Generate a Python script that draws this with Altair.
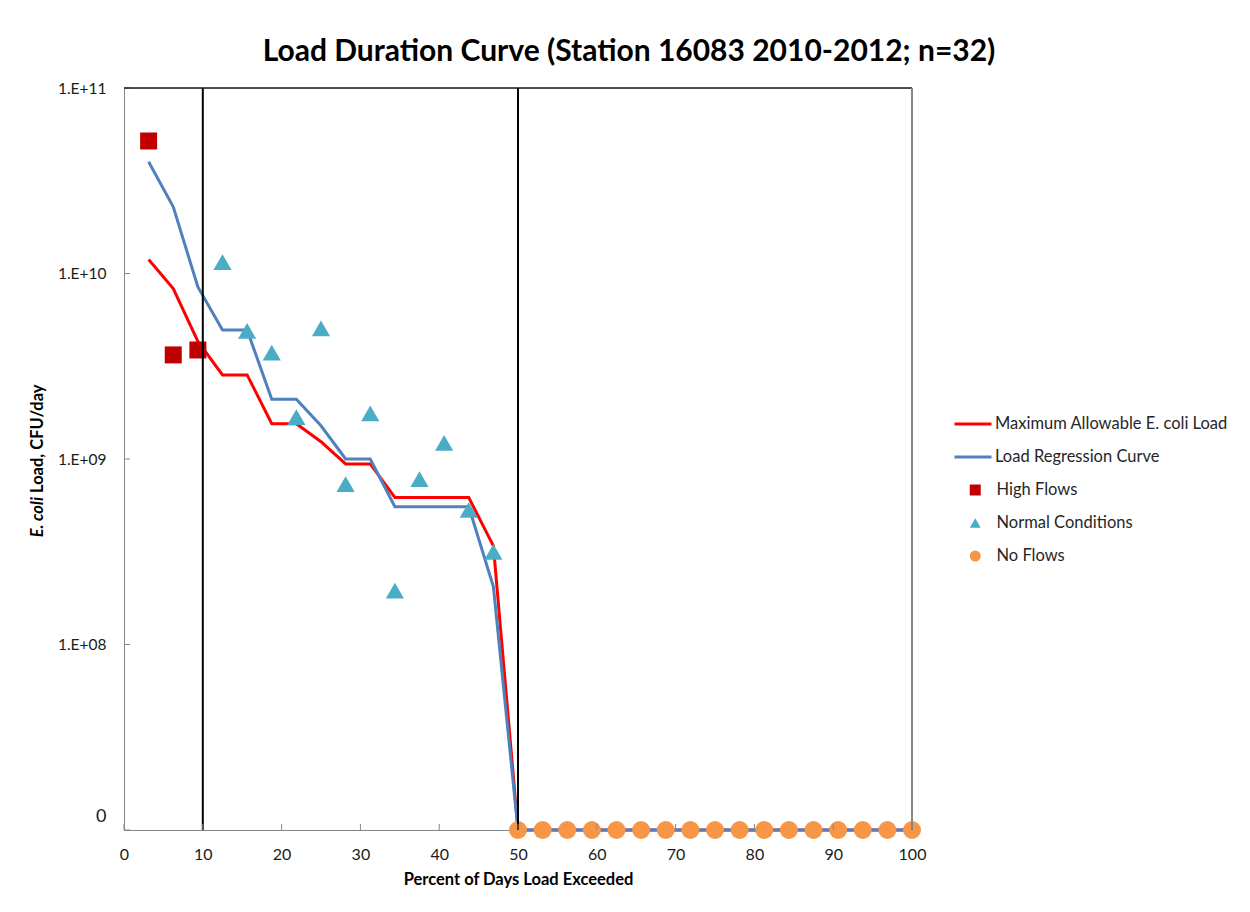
import altair as alt
import pandas as pd

# ---------------- data ----------------
pct_exceeded = [3.125, 6.25, 9.375, 12.5, 15.625, 18.75, 21.875, 25.0, 28.125, 31.25,
                34.375, 37.5, 40.625, 43.75, 46.875, 50.0, 53.125, 56.25, 59.375, 62.5,
                65.625, 68.75, 71.875, 75.0, 78.125, 81.25, 84.375, 87.5, 90.625, 93.75,
                96.875, 100.0]
max_allowable = [1.19e10, 8.3e9, 4.3e9, 2.84e9, 2.84e9, 1.55e9, 1.55e9, 1.24e9, 9.4e8, 9.4e8,
                 6.2e8, 6.2e8, 6.2e8, 6.2e8, 3.4e8, 0, 0, 0, 0, 0,
                 0, 0, 0, 0, 0, 0, 0, 0, 0, 0,
                 0, 0]
regression = [4.0e10, 2.29e10, 8.46e9, 4.96e9, 4.96e9, 2.1e9, 2.1e9, 1.51e9, 1.0e9, 1.0e9,
              5.53e8, 5.53e8, 5.53e8, 5.53e8, 2.05e8, 0, 0, 0, 0, 0,
              0, 0, 0, 0, 0, 0, 0, 0, 0, 0,
              0, 0]

high_x = [3.125, 6.25, 9.375]
high_y = [5.18e10, 3.64e9, 3.87e9]

normal_x = [12.5, 15.625, 18.75, 21.875, 25.0, 28.125, 31.25, 34.375, 37.5, 40.625, 43.75, 46.875]
normal_y = [1.15e10, 4.9e9, 3.74e9, 1.68e9, 5.06e9, 7.33e8, 1.76e9, 1.95e8, 7.8e8, 1.22e9, 5.31e8, 3.16e8]

noflow_x = [50.0, 53.125, 56.25, 59.375, 62.5, 65.625, 68.75, 71.875, 75.0, 78.125,
            81.25, 84.375, 87.5, 90.625, 93.75, 96.875, 100.0]
noflow_y = [0, 0, 0, 0, 0, 0, 0, 0, 0, 0, 0, 0, 0, 0, 0, 0, 0]

flow_breaks = [10, 50]

x_ticks = [0, 10, 20, 30, 40, 50, 60, 70, 80, 90, 100]
y_ticks = [1e7, 1e8, 1e9, 1e10, 1e11]

line_names = ["Maximum Allowable E. coli Load", "Load Regression Curve"]
line_colors = ["#FF0000", "#4F81BD"]
point_names = ["High Flows", "Normal Conditions", "No Flows"]
point_colors = ["#C00000", "#4BACC6", "#F79646"]
point_shapes = ["square", "triangle-up", "circle"]

FONT = "Lato"
W, H = 788, 742
FLOOR = "max(datum.load, 1e7)"  # zero loads sit on the axis floor labelled "0"

xs = alt.Scale(domain=[0, 100], nice=False, zero=False)
ys = alt.Scale(type="log", domain=[1e7, 1e11], nice=False)

line_legend = alt.Legend(
    title=None, orient="none", legendX=829, legendY=321, padding=0,
    symbolType="stroke", symbolSize=1369, symbolStrokeWidth=3,
    clipHeight=30, rowPadding=3, labelOffset=2,
    labelFont=FONT, labelFontSize=16.5, labelColor="#262626", labelLimit=400,
)
point_legend = alt.Legend(
    title=None, orient="none", legendX=843, legendY=387, padding=0,
    symbolSize=121, symbolStrokeWidth=0, symbolOpacity=1,
    clipHeight=30, rowPadding=3, labelOffset=13,
    labelFont=FONT, labelFontSize=16.5, labelColor="#262626", labelLimit=400,
)

x_axis = alt.Axis(values=x_ticks, grid=False, ticks=False, tickSize=0, labelFlush=False,
                  domainColor="#868686", labelFont=FONT, labelFontSize=16,
                  labelColor="#1a1a1a", labelPadding=16,
                  title="Percent of Days Load Exceeded", titleFont=FONT,
                  titleFontSize=16.5, titleFontWeight="bold", titleColor="#000000",
                  titlePadding=9)
y_axis = alt.Axis(values=y_ticks, grid=False, ticks=False, tickSize=0, labelFlush=False,
                  domainColor="#868686", labelFont=FONT,
                  labelFontSize={"condition": {"test": "datum.value <= 1e7", "value": 18}, "value": 15.5},
                  labelOffset={"condition": {"test": "datum.value <= 1e7", "value": -14}, "value": 0},
                  labelColor="#1a1a1a", labelPadding=18,
                  labelExpr="datum.value <= 1e7 ? '0' : '1.E+' + format(round(log(datum.value)/LN10), '02d')",
                  title=None)

lines_df = pd.DataFrame({
    "pct": pct_exceeded * 2,
    "load": max_allowable + regression,
    "series": [line_names[0]] * len(pct_exceeded) + [line_names[1]] * len(pct_exceeded),
})

lines = alt.Chart(lines_df).transform_calculate(yv=FLOOR).mark_line(strokeWidth=3).encode(
    x=alt.X("pct:Q", scale=xs, axis=x_axis),
    y=alt.Y("yv:Q", scale=ys, axis=y_axis),
    color=alt.Color("series:N", scale=alt.Scale(domain=line_names, range=line_colors),
                    legend=line_legend),
    order=alt.Order("pct:Q"),
)

fs = alt.Scale(domain=point_names, range=point_colors)
ss = alt.Scale(domain=point_names, range=point_shapes)


def pts(xv, yv, name, size):
    df = pd.DataFrame({"pct": xv, "load": yv, "series": [name] * len(xv)})
    return alt.Chart(df).transform_calculate(yv=FLOOR).mark_point(
        filled=True, opacity=1, size=size, strokeWidth=0
    ).encode(
        x=alt.X("pct:Q", scale=xs),
        y=alt.Y("yv:Q", scale=ys),
        fill=alt.Fill("series:N", scale=fs, legend=point_legend),
        shape=alt.Shape("series:N", scale=ss, legend=point_legend),
    )


high = pts(high_x, high_y, "High Flows", 289)
normal = pts(normal_x, normal_y, "Normal Conditions", 330)
noflow = pts(noflow_x, noflow_y, "No Flows", 324)

breaks = alt.Chart(pd.DataFrame({"pct": flow_breaks})).mark_rule(
    color="#000000", strokeWidth=2).encode(x=alt.X("pct:Q", scale=xs))

xt = alt.Chart(pd.DataFrame({"v": x_ticks})).mark_rule(color="#868686", strokeWidth=1).encode(
    x=alt.X("v:Q", scale=xs), y=alt.value(H), y2=alt.value(H - 6))
yt = alt.Chart(pd.DataFrame({"v": y_ticks})).mark_rule(color="#868686", strokeWidth=1).encode(
    y=alt.Y("v:Q", scale=ys), x=alt.value(0), x2=alt.value(6))

one = pd.DataFrame({"a": [0]})
top_border = alt.Chart(one).mark_rule(color="#1a1a1a", strokeWidth=1.5).encode(
    x=alt.value(0), x2=alt.value(W), y=alt.value(0))
right_border = alt.Chart(one).mark_rule(color="#868686", strokeWidth=2).encode(
    x=alt.value(W), y=alt.value(0), y2=alt.value(H))

ytitle1 = alt.Chart(one).mark_text(
    text="E. coli", angle=270, align="right", baseline="middle", font=FONT,
    fontSize=16.5, fontWeight="bold", fontStyle="italic", color="#000000"
).encode(x=alt.value(-86), y=alt.value(409))
ytitle2 = alt.Chart(one).mark_text(
    text="Load, CFU/day", angle=270, align="left", baseline="middle", font=FONT,
    fontSize=16.5, fontWeight="bold", color="#000000"
).encode(x=alt.value(-86), y=alt.value(405))

chart = alt.layer(
    lines, high, normal, noflow, breaks, xt, yt, top_border, right_border, ytitle1, ytitle2
).properties(
    width=W, height=H,
    title=alt.TitleParams("Load Duration Curve (Station 16083 2010-2012; n=32)",
                          font=FONT, fontSize=30, fontWeight="bold", color="#000000",
                          anchor="middle", dx=111, offset=14),
    autosize=alt.AutoSizeParams(type="none"),
    padding={"left": 124, "top": 88, "right": 1250 - 124 - W, "bottom": 912 - 88 - H},
).configure_view(stroke=None).configure(background="#ffffff")

chart.save("out.html", embed_options={"renderer": "svg", "actions": False})
